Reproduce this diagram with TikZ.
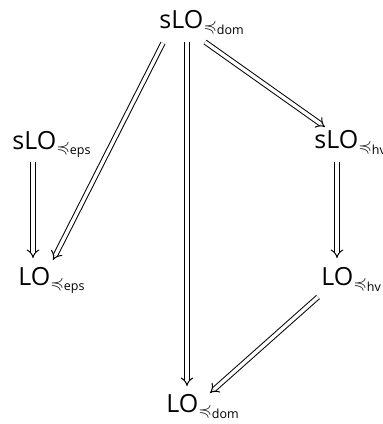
\documentclass[tikz,border=0pt]{standalone}
\usepackage{amsmath,amssymb}
\usepackage{fontspec}
\setmainfont{Open Sans}
\usetikzlibrary{arrows.meta,calc}
\tikzset{
    lo/.style={anchor=base west, inner sep=0pt, font=\fontsize{12.5}{15}\selectfont},
    imp/.style={double, double distance=1.7pt, line width=0.5pt, -{Implies}},
}
\newcommand{\lo}[2]{$\text{#1}_{\preccurlyeq_{\text{#2}}}$}
\begin{document}
\begin{tikzpicture}[x=0.5pt, y=-0.5pt]
    \useasboundingbox (0,0) rectangle (382,424);
    % Knoten
    \node[lo] (sdom) at (159,28) {\lo{sLO}{dom}};
    \node[lo] (seps) at (12,149) {\lo{sLO}{eps}};
    \node[lo] (shv) at (314,148) {\lo{sLO}{hv}};
    \node[lo] (eps) at (18,285) {\lo{LO}{eps}};
    \node[lo] (hv) at (321,285) {\lo{LO}{hv}};
    \node[lo] (dom) at (166,412) {\lo{LO}{dom}};

    % Implikationen
    \draw[imp] ($(sdom.base west)+(4,15)$) -- ($(eps.base west)+(35,-25)$);
    \draw[imp] ($(sdom.base west)+(28,14)$) -- ($(dom.base west)+(21,-26)$);
    \draw[imp] ($(sdom.base west)+(46,14)$) -- ($(shv.base west)+(11,-21)$);
    \draw[imp] ($(seps.base west)+(21,13)$) -- ($(eps.base west)+(15,-27)$);
    \draw[imp] ($(shv.base west)+(23,14)$) -- ($(hv.base west)+(16,-27)$);
    \draw[imp] ($(hv.base west)+(-3,12)$) -- ($(dom.base west)+(44,-19)$);
\end{tikzpicture}
\end{document}
